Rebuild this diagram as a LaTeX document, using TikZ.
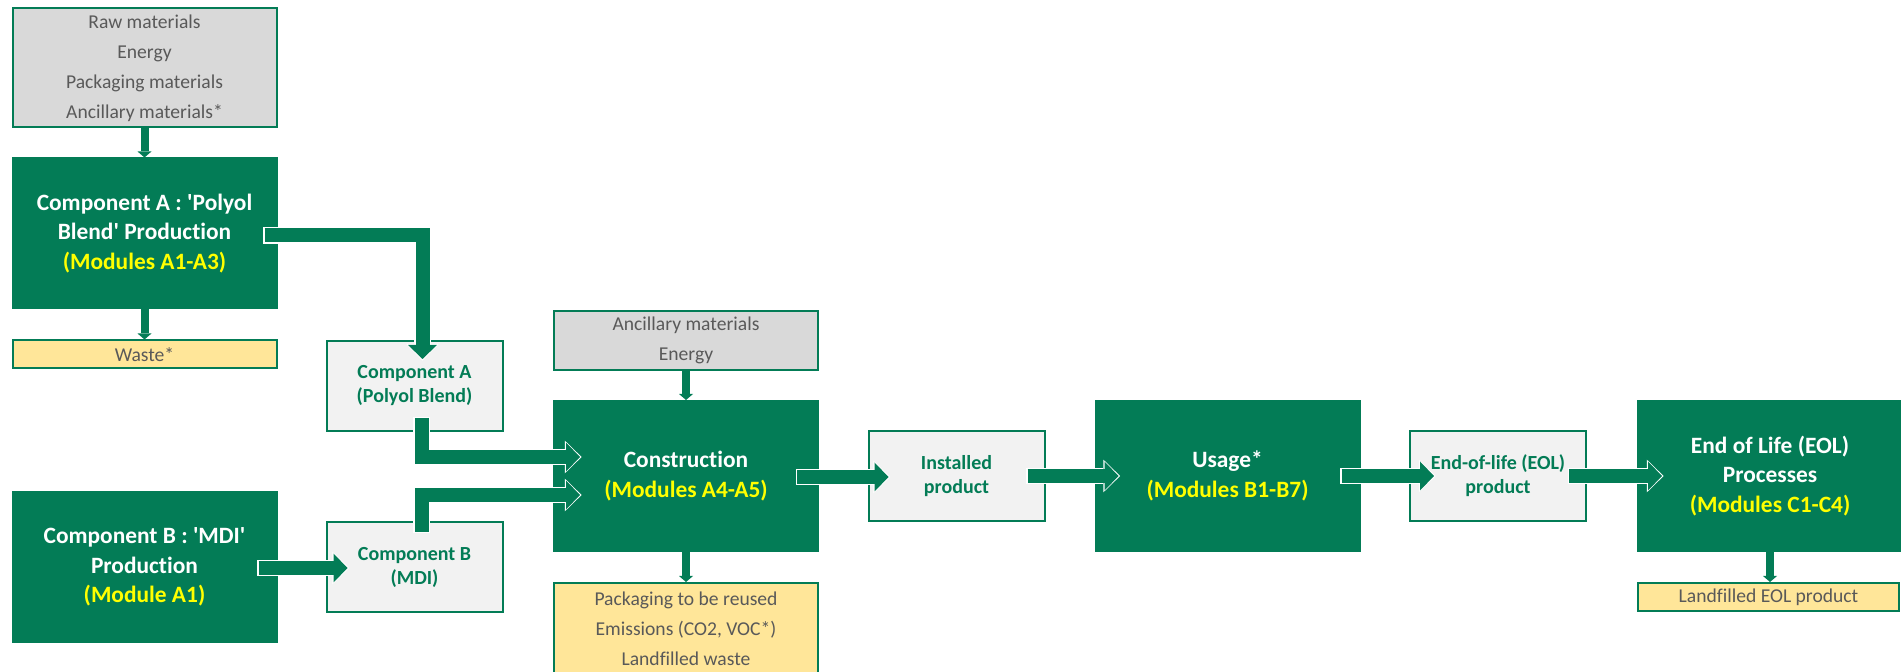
\documentclass[tikz,border=0pt]{standalone}
\usepackage{fontspec}
\setmainfont{Carlito}[Ligatures=NoCommon]
\usetikzlibrary{arrows.meta, calc, positioning}

\definecolor{lcagreen}{HTML}{037C56}
\definecolor{boxgrey}{HTML}{D9D9D9}
\definecolor{boxlight}{HTML}{F2F2F2}
\definecolor{boxyellow}{HTML}{FFE699}
\definecolor{txtgrey}{HTML}{595959}
\definecolor{modyellow}{HTML}{FFFF00}

\newcommand{\module}[1]{\textcolor{modyellow}{#1}}

\tikzset{
    stage/.style={fill=lcagreen, draw=lcagreen, line width=1pt, minimum width=132pt, minimum height=75pt,
        align=center, text=white, font=\fontsize{11.7}{14.8}\selectfont\bfseries},
    product/.style={fill=boxlight, draw=lcagreen, line width=1pt, minimum width=88pt, minimum height=45pt,
        align=center, text=lcagreen, font=\fontsize{10}{12}\selectfont\bfseries},
    inputs/.style={fill=boxgrey, draw=lcagreen, line width=1pt, minimum width=132pt, inner sep=2pt,
        align=center, text=txtgrey, font=\fontsize{9.8}{15}\selectfont},
    outputs/.style={inputs, fill=boxyellow},
    thinarrow/.style={draw=lcagreen, line width=4pt, -{Triangle[width=7pt,length=3pt,line width=0pt]}},
    fatarrow/.style={draw=lcagreen, line width=7pt, line join=miter,
        -{Triangle[width=14.5pt,length=7pt,line width=0pt]},
        preaction={draw=white, line width=8.2pt, shorten <=-0.6pt, shorten >=-0.8pt,
            -{Triangle[width=16.4pt,length=8.4pt,line width=0pt]}}}
}

\begin{document}
\begin{tikzpicture}[x=0.5pt, y=-0.5pt]
    \useasboundingbox (0,0) rectangle (1901,672);

    % Stages
    \node[stage] (prodA) at (144.5,233.5) {Component A : \textquotesingle Polyol\\Blend\textquotesingle{} Production\\\module{(Modules A1-A3)}};
    \node[stage] (prodB) at (144.5,567) {Component B : \textquotesingle MDI\textquotesingle\\Production\\\module{(Module A1)}};
    \node[stage] (constr) at (686,476) {Construction\\\module{(Modules A4-A5)}};
    \node[stage] (usage) at (1227.5,476) {Usage*\\\module{(Modules B1-B7)}};
    \node[stage] (eolproc) at (1770,476) {End of Life (EOL)\\Processes\\\module{(Modules C1-C4)}};

    % Products
    \node[product] (compA) at (414.5,386) {Component A\\(Polyol Blend)};
    \node[product] (compB) at (414.5,567) {Component B\\(MDI)};
    \node[product] (instal) at (956.5,476) {Installed\\product};
    \node[product] (eolprod) at (1498,476) {End-of-life (EOL)\\product};

    % Inputs and outputs
    \node[inputs, minimum height=59.5pt, above=14.5pt of prodA] (rawin) {Raw materials\\Energy\\Packaging materials\\Ancillary materials*};
    \node[outputs, minimum height=14pt, below=15pt of prodA] (wasteA) {Waste*};
    \node[inputs, minimum height=29.5pt, above=14.5pt of constr] (ancil) {Ancillary materials\\Energy};
    \node[outputs, minimum height=45.5pt, below=15pt of constr] (pack) {Packaging to be reused\\Emissions (CO2, VOC*)\\Landfilled waste};
    \node[outputs, minimum width=130.5pt, minimum height=14pt, below=15pt of eolproc, xshift=-0.75pt] (landf) {Landfilled EOL product};

    % Thin arrows
    \draw[thinarrow] (rawin.south) -- (prodA.north);
    \draw[thinarrow] (prodA.south) -- (wasteA.north);
    \draw[thinarrow] (ancil.south) -- (constr.north);
    \draw[thinarrow] (constr.south) -- (pack.north);
    \draw[thinarrow] (eolproc.south) -- (eolproc.south |- landf.north);

    % Block arrows
    \draw[fatarrow] ($(prodA.east)+(-13,2)$) -| ($(compA.north)+(8,19)$);
    \draw[fatarrow] ($(compA.south)+(7,-14)$) |- ($(constr.west)+(27,-19)$);
    \draw[fatarrow] ($(compB.north)+(7,11)$) |- ($(constr.west)+(27,19)$);
    \draw[fatarrow] ($(prodB.east)+(-19,1)$) -- ($(compB.west)+(22,1)$);
    \draw[fatarrow] ($(constr.east)+(-22,1)$) -- ($(instal.west)+(21,1)$);
    \draw[fatarrow] ($(instal.east)+(-18,0)$) -- ($(usage.west)+(24,0)$);
    \draw[fatarrow] ($(usage.east)+(-19,0)$) -- ($(eolprod.west)+(25,0)$);
    \draw[fatarrow] ($(eolprod.east)+(-18,0)$) -- ($(eolproc.west)+(25,0)$);
\end{tikzpicture}
\end{document}
